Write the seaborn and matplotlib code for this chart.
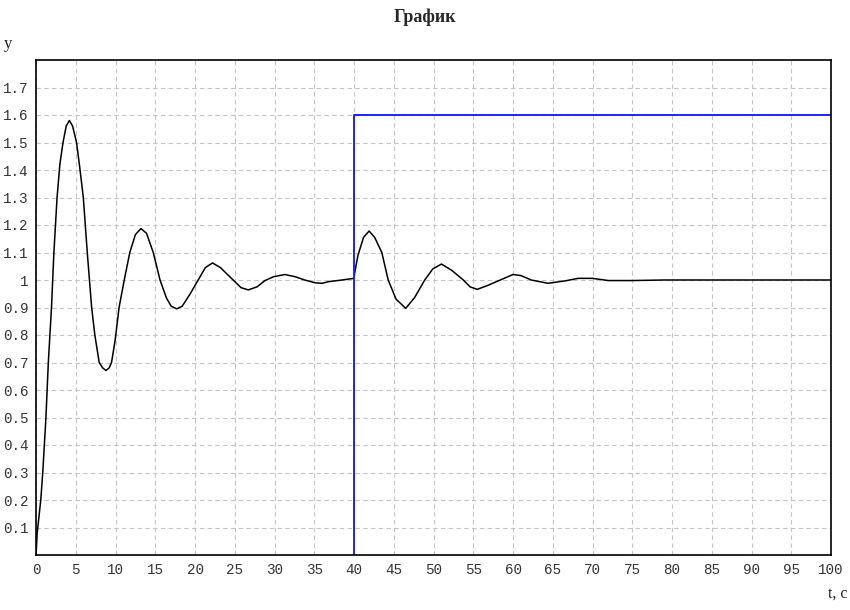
import numpy as np
import pandas as pd
import matplotlib
matplotlib.use("Agg")
import matplotlib.pyplot as plt
import seaborn as sns

# valori: risposta del sistema (nero)
tempo = [0, 0.15, 0.3, 0.6, 0.85, 1.25, 1.55, 1.95, 2.25, 2.65, 3.0, 3.4, 3.8, 4.2,
         4.6, 5.1, 5.5, 5.95, 6.45, 7.0, 7.4, 7.95, 8.4, 8.8, 9.2, 9.5, 9.95, 10.45,
         11.1, 11.8, 12.5, 13.2, 13.9, 14.75, 15.6, 16.4, 17.0, 17.7, 18.4, 19.4,
         20.4, 21.3, 22.2, 23.2, 24.8, 25.8, 26.7, 27.8, 28.8, 29.9, 31.3, 32.6,
         33.8, 35.1, 36.0, 36.8, 38.5, 40.0, 40.05, 40.5, 41.2, 41.9, 42.6, 43.5,
         44.3, 45.3, 46.5, 47.6, 48.9, 49.9, 51.0, 52.3, 53.75, 54.6, 55.5, 56.8,
         58.4, 60.0, 61.0, 62.3, 64.4, 66.6, 68.2, 70.0, 72.0, 75.0, 79.0, 85.0,
         90.0, 100.0]
uscita = [0, 0.08, 0.12, 0.2, 0.3, 0.5, 0.7, 0.9, 1.1, 1.3, 1.42, 1.5, 1.56, 1.58,
          1.56, 1.5, 1.41, 1.3, 1.1, 0.9, 0.8, 0.7, 0.68, 0.671, 0.68, 0.7, 0.78, 0.9,
          1.0, 1.1, 1.165, 1.187, 1.17, 1.1, 1.0, 0.935, 0.905, 0.895, 0.905, 0.95,
          1.0, 1.045, 1.062, 1.045, 1.0, 0.972, 0.964, 0.975, 0.998, 1.012, 1.02, 1.012,
          1.0, 0.99, 0.988, 0.994, 1.0, 1.006, 1.02, 1.09, 1.155, 1.178, 1.155, 1.1,
          1.0, 0.93, 0.897, 0.935, 1.0, 1.04, 1.058, 1.035, 1.0, 0.975, 0.966, 0.98,
          1.0, 1.02, 1.016, 1.0, 0.988, 0.997, 1.006, 1.006, 0.998, 0.998, 1.0, 1.0,
          1.0, 1.0]

# gradino (blu)
tempo_gradino = [40, 40, 100]
valore_gradino = [0, 1.6, 1.6]

x_ticks = list(range(0, 101, 5))
y_ticks = [round(0.1 * i, 1) for i in range(1, 18)]
y_labels = ["1" if v == 1.0 else f"{v:g}" for v in y_ticks]

sns.set_style("white")
plt.rcParams['font.family'] = ['Liberation Mono', 'DejaVu Sans Mono']

df = pd.DataFrame({"t": tempo, "y": uscita})
df_g = pd.DataFrame({"t": tempo_gradino, "y": valore_gradino})

fig = plt.figure(figsize=(8.5, 6.1), dpi=100)
ax = fig.add_axes([36 / 850, 1 - 555 / 610, 795 / 850, 495 / 610])

sns.lineplot(data=df, x="t", y="y", ax=ax, color="black", lw=1.1,
             sort=False, estimator=None)
sns.lineplot(data=df_g, x="t", y="y", ax=ax, color="#2020ff", lw=1.4,
             sort=False, estimator=None)

ax.set_xlim(0, 100)
ax.set_ylim(0, 1.8)
ax.set_xticks(x_ticks)
ax.set_xticklabels([str(v) for v in x_ticks])
ax.set_yticks(y_ticks)
ax.set_yticklabels(y_labels)
ax.set_xlabel("")
ax.set_ylabel("")

ax.grid(True, color="#c4c4c4", linestyle=(0, (4, 3)), linewidth=0.8)
ax.tick_params(axis="both", length=3, width=0.8, color="#b0b0b0",
               labelsize=10.3, labelcolor="#333333", pad=2.5, direction="out")
for sp in ax.spines.values():
    sp.set_color("black")
    sp.set_linewidth(1.2)

fig.text(425 / 850, 1 - 17 / 610, "График", ha="center", va="center",
         fontsize=13, fontweight="bold", family="Liberation Serif")
fig.text(8 / 850, 1 - 44 / 610, "y", ha="center", va="center",
         fontsize=12, family="Liberation Serif", color="#222222")
fig.text(847 / 850, 1 - 594 / 610, "t, c", ha="right", va="center",
         fontsize=11.5, family="Liberation Serif", color="#222222")

fig.savefig("out.png", dpi=100)
